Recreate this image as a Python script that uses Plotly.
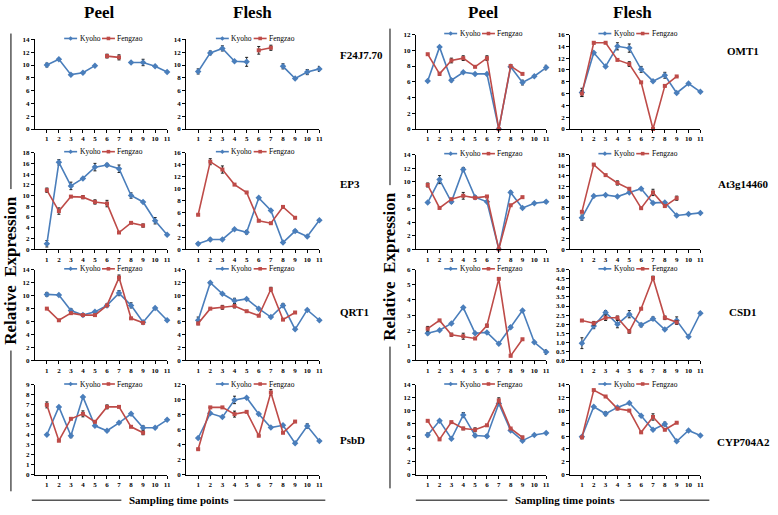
import plotly.graph_objects as go

W, H = 778, 515
X = [1, 2, 3, 4, 5, 6, 7, 8, 9, 10, 11]
XF = [1, 2, 3, 4, 5, 6, 7, 8, 9]
N = None

# ---------------- data ----------------
f24_peel_kyoho = [10.0, 10.9, 8.5, 8.8, 9.9, N, N, 10.4, 10.4, 9.8, 8.9]
f24_peel_kyoho_err = [0.3, N, N, N, N, N, N, N, 0.5, N, N]
f24_peel_fengzao = [N, N, N, N, N, 11.4, 11.2, N, N]
f24_peel_fengzao_err = [N, N, N, N, N, 0.3, 0.4, N, N]
f24_flesh_kyoho = [9.0, 11.9, 12.6, 10.6, 10.5, N, N, 9.8, 7.9, 8.9, 9.4]
f24_flesh_kyoho_err = [0.4, 0.3, 0.4, N, 0.7, N, N, 0.4, N, 0.4, 0.4]
f24_flesh_fengzao = [N, N, N, N, N, 12.3, 12.7, N, N]
f24_flesh_fengzao_err = [N, N, N, N, N, 0.6, 0.4, N, N]

ep3_peel_kyoho = [1.0, 16.2, 11.8, 13.2, 15.3, 15.7, 15.0, 10.0, 8.8, 5.3, 2.7]
ep3_peel_kyoho_err = [0.6, 0.5, 0.7, N, 0.7, 0.3, 0.7, 0.5, N, 0.6, N]
ep3_peel_fengzao = [11.0, 7.1, 9.8, 9.7, 8.8, 8.5, 3.1, 4.9, 4.4]
ep3_peel_fengzao_err = [0.4, 0.6, N, 0.3, 0.4, 0.6, N, N, 0.3]
ep3_flesh_kyoho = [0.9, 1.6, 1.6, 3.3, 2.8, 8.5, 6.4, 1.1, 3.0, 2.1, 4.8]
ep3_flesh_kyoho_err = [0.2, 0.2, N, N, 0.3, N, N, N, 0.2, N, N]
ep3_flesh_fengzao = [5.7, 14.5, 13.2, 10.7, 9.4, 4.7, 4.3, 7.0, 5.2]
ep3_flesh_fengzao_err = [N, 0.5, 0.6, N, N, N, N, N, N]

qrt1_peel_kyoho = [10.2, 10.1, 7.7, 7.0, 7.5, 8.5, 10.4, 8.5, 5.9, 8.1, 6.2]
qrt1_peel_kyoho_err = [0.3, N, 0.3, N, N, N, 0.4, 0.4, N, N, N]
qrt1_peel_fengzao = [8.0, 6.2, 7.3, 7.0, 7.0, 8.5, 12.8, 6.5, 5.8]
qrt1_peel_fengzao_err = [N, N, N, N, N, N, 0.4, N, N]
qrt1_flesh_kyoho = [6.2, 12.0, 10.3, 9.2, 9.5, 8.0, 6.7, 8.5, 4.8, 7.8, 6.2]
qrt1_flesh_kyoho_err = [0.5, 0.2, N, 0.4, N, N, N, 0.3, N, N, N]
qrt1_flesh_fengzao = [5.7, 8.0, 8.2, 8.4, 7.6, 6.9, 11.0, 6.3, 7.4]
qrt1_flesh_fengzao_err = [0.2, N, 0.3, 0.3, N, N, 0.3, N, N]

psbd_peel_kyoho = [4.0, 6.8, 3.9, 7.8, 4.9, 4.4, 5.2, 6.1, 4.7, 4.7, 5.5]
psbd_peel_kyoho_err = [N, N, 0.2, N, N, N, N, N, 0.2, N, N]
psbd_peel_fengzao = [7.0, 3.4, 5.6, 6.1, 5.3, 6.8, 6.8, 4.8, 4.2]
psbd_peel_fengzao_err = [0.3, N, N, 0.3, N, 0.2, N, N, 0.2]
psbd_flesh_kyoho = [4.9, 8.2, 7.7, 10.0, 10.3, 8.1, 6.3, 6.6, 4.2, 6.5, 4.5]
psbd_flesh_kyoho_err = [N, N, N, 0.5, N, N, N, N, N, 0.3, N]
psbd_flesh_fengzao = [3.4, 9.0, 9.0, 8.1, 8.4, 5.2, 11.0, 5.6, 7.1]
psbd_flesh_fengzao_err = [N, N, N, 0.4, N, N, 0.4, N, N]

omt1_peel_kyoho = [6.1, 10.4, 6.2, 7.2, 7.0, 7.0, 0.0, 7.9, 5.9, 6.7, 7.8]
omt1_peel_kyoho_err = [N, N, 0.2, N, N, N, N, N, 0.3, N, 0.3]
omt1_peel_fengzao = [9.5, 7.0, 8.7, 9.0, 7.9, 9.0, 0.0, 8.0, 7.0]
omt1_peel_fengzao_err = [N, 0.2, 0.3, 0.3, N, 0.3, N, 0.2, N]
omt1_flesh_kyoho = [6.2, 12.9, 10.6, 14.0, 13.7, 10.1, 8.1, 9.1, 6.1, 7.7, 6.3]
omt1_flesh_kyoho_err = [0.7, N, N, 0.6, 0.7, 0.5, N, 0.5, N, N, N]
omt1_flesh_fengzao = [6.0, 14.6, 14.6, 11.7, 11.0, 7.9, 0.0, 7.3, 8.9]
omt1_flesh_fengzao_err = [0.5, 0.2, N, N, 0.4, N, N, N, N]

at3_peel_kyoho = [6.9, 10.3, 7.0, 11.8, 7.7, 7.0, 0.0, 8.4, 6.1, 6.8, 7.0]
at3_peel_kyoho_err = [N, 0.6, 0.2, 0.3, 0.2, N, N, 0.2, N, N, 0.2]
at3_peel_fengzao = [9.5, 6.1, 7.4, 7.9, 7.6, 7.8, 0.0, 6.5, 7.7]
at3_peel_fengzao_err = [0.3, N, N, 0.5, N, N, N, N, N]
at3_flesh_kyoho = [6.0, 10.1, 10.3, 10.0, 10.8, 11.5, 8.8, 8.9, 6.4, 6.7, 6.9]
at3_flesh_kyoho_err = [0.5, N, N, N, N, N, N, N, N, N, N]
at3_flesh_fengzao = [7.1, 16.1, 14.1, 12.6, 11.5, 7.8, 10.8, 8.2, 9.7]
at3_flesh_fengzao_err = [N, N, N, 0.4, N, N, 0.6, N, 0.4]

csd1_peel_kyoho = [1.8, 2.0, 2.45, 3.5, 1.8, 1.85, 1.1, 2.2, 3.3, 1.2, 0.55]
csd1_peel_kyoho_err = [0.1, N, N, N, N, N, N, 0.1, N, N, 0.15]
csd1_peel_fengzao = [2.1, 2.65, 1.7, 1.6, 1.45, 2.3, 5.4, 0.3, 1.4]
csd1_peel_fengzao_err = [0.15, N, 0.1, 0.2, N, 0.1, N, N, N]
csd1_flesh_kyoho = [0.95, 1.9, 2.65, 2.0, 2.55, 1.95, 2.3, 1.7, 2.2, 1.3, 2.6]
csd1_flesh_kyoho_err = [0.3, 0.15, 0.1, 0.2, 0.2, 0.1, 0.1, N, 0.2, N, 0.1]
csd1_flesh_fengzao = [2.2, 2.05, 2.35, 2.35, 1.6, 2.85, 4.55, 2.35, 2.1]
csd1_flesh_fengzao_err = [N, 0.1, 0.15, 0.1, 0.1, N, 0.1, 0.1, 0.1]

cyp_peel_kyoho = [6.2, 8.4, 5.6, 9.3, 6.1, 6.0, 11.1, 6.9, 5.3, 6.2, 6.5]
cyp_peel_kyoho_err = [0.3, 0.2, N, 0.4, 0.2, 0.2, N, N, N, N, N]
cyp_peel_fengzao = [8.4, 5.5, 8.2, 7.2, 7.0, 7.7, 11.6, 7.2, 5.8]
cyp_peel_fengzao_err = [N, N, N, 0.2, 0.3, N, 0.4, N, 0.2]
cyp_flesh_kyoho = [5.9, 10.6, 9.5, 10.5, 11.2, 9.2, 7.0, 7.9, 5.2, 6.9, 6.1]
cyp_flesh_kyoho_err = [N, N, 0.3, N, N, N, N, 0.3, N, N, N]
cyp_flesh_fengzao = [5.8, 13.2, 12.2, 10.3, 10.0, 6.6, 9.0, 7.0, 8.1]
cyp_flesh_fengzao_err = [N, N, N, N, N, N, 0.5, N, N]

gene_labels_left = ["F24J7.70", "EP3", "QRT1", "PsbD"]
gene_labels_right = ["OMT1", "At3g14460", "CSD1", "CYP704A2"]
series_names = ["Kyoho", "Fengzao"]

# panel: (kyoho, kyoho_err, fengzao, fengzao_err, ymax, dtick, col, row)
panels = [
    (f24_peel_kyoho, f24_peel_kyoho_err, f24_peel_fengzao, f24_peel_fengzao_err, 14, 2, 0, 0),
    (f24_flesh_kyoho, f24_flesh_kyoho_err, f24_flesh_fengzao, f24_flesh_fengzao_err, 14, 2, 1, 0),
    (ep3_peel_kyoho, ep3_peel_kyoho_err, ep3_peel_fengzao, ep3_peel_fengzao_err, 18, 2, 0, 1),
    (ep3_flesh_kyoho, ep3_flesh_kyoho_err, ep3_flesh_fengzao, ep3_flesh_fengzao_err, 16, 2, 1, 1),
    (qrt1_peel_kyoho, qrt1_peel_kyoho_err, qrt1_peel_fengzao, qrt1_peel_fengzao_err, 14, 2, 0, 2),
    (qrt1_flesh_kyoho, qrt1_flesh_kyoho_err, qrt1_flesh_fengzao, qrt1_flesh_fengzao_err, 14, 2, 1, 2),
    (psbd_peel_kyoho, psbd_peel_kyoho_err, psbd_peel_fengzao, psbd_peel_fengzao_err, 9, 1, 0, 3),
    (psbd_flesh_kyoho, psbd_flesh_kyoho_err, psbd_flesh_fengzao, psbd_flesh_fengzao_err, 12, 2, 1, 3),
    (omt1_peel_kyoho, omt1_peel_kyoho_err, omt1_peel_fengzao, omt1_peel_fengzao_err, 12, 2, 2, 0),
    (omt1_flesh_kyoho, omt1_flesh_kyoho_err, omt1_flesh_fengzao, omt1_flesh_fengzao_err, 16, 2, 3, 0),
    (at3_peel_kyoho, at3_peel_kyoho_err, at3_peel_fengzao, at3_peel_fengzao_err, 14, 2, 2, 1),
    (at3_flesh_kyoho, at3_flesh_kyoho_err, at3_flesh_fengzao, at3_flesh_fengzao_err, 18, 2, 3, 1),
    (csd1_peel_kyoho, csd1_peel_kyoho_err, csd1_peel_fengzao, csd1_peel_fengzao_err, 6, 1, 2, 2),
    (csd1_flesh_kyoho, csd1_flesh_kyoho_err, csd1_flesh_fengzao, csd1_flesh_fengzao_err, 5, 0.5, 3, 2),
    (cyp_peel_kyoho, cyp_peel_kyoho_err, cyp_peel_fengzao, cyp_peel_fengzao_err, 14, 2, 2, 3),
    (cyp_flesh_kyoho, cyp_flesh_kyoho_err, cyp_flesh_fengzao, cyp_flesh_fengzao_err, 14, 2, 3, 3),
]

# ---------------- layout geometry (pixels) ----------------
COLS = [(35, 168), (187, 321), (418, 549), (573, 704)]
ROW_BOTTOM = [127, 249, 362, 478]
ROW_TOP_LEFT = [36, 151, 270, 387]
ROW_TOP_RIGHT = [31, 153, 270, 387]

BLUE = "#4A7EBB"
RED = "#BE4B48"
SERIF = "'Liberation Serif', 'Times New Roman', Times, 'DejaVu Serif', serif"


def px(x):
    return x / W


def py(y):
    return 1 - y / H


fig = go.Figure()
layout = dict(
    width=W, height=H, margin=dict(l=0, r=0, t=0, b=0),
    paper_bgcolor="white", plot_bgcolor="white", showlegend=False,
    font=dict(family=SERIF, color="black"),
)
shapes = []
annotations = []

for i, (ky, kye, fz, fze, ymax, dtick, col, row) in enumerate(panels):
    n = i + 1
    xa = "x" if n == 1 else f"x{n}"
    ya = "y" if n == 1 else f"y{n}"
    x0, x1 = COLS[col]
    top = ROW_TOP_LEFT[row] if col < 2 else ROW_TOP_RIGHT[row]
    bot = ROW_BOTTOM[row]
    for vals, errs, xs, color, sym, msz in (
        (ky, kye, X, BLUE, "diamond", 5),
        (fz, fze, XF, RED, "square", 4),
    ):
        fig.add_trace(go.Scatter(
            x=xs, y=vals, xaxis=xa, yaxis=ya, mode="lines+markers",
            line=dict(color=color, width=1.6),
            marker=dict(color=color, symbol=sym, size=msz),
            error_y=dict(type="data", array=errs, visible=True,
                         color="#222222", thickness=1, width=1.5),
            cliponaxis=False, connectgaps=False, hoverinfo="skip",
        ))
    layout["xaxis" if n == 1 else f"xaxis{n}"] = dict(
        domain=[px(x0), px(x1)], anchor=ya, range=[0, 11], tickvals=X,
        showline=True, linecolor="black", linewidth=1, ticks="outside",
        ticklen=3, tickcolor="black", showgrid=False, zeroline=False,
        tickfont=dict(family=SERIF, size=7, color="black", weight="bold"),
    )
    tickformat = ".1f" if dtick < 1 else "d"
    layout["yaxis" if n == 1 else f"yaxis{n}"] = dict(
        domain=[py(bot), py(top)], anchor=xa, range=[0, ymax], dtick=dtick,
        tick0=0, tickformat=tickformat,
        showline=True, linecolor="black", linewidth=1, ticks="outside",
        ticklen=3, tickcolor="black", showgrid=False, zeroline=False,
        tickfont=dict(family=SERIF, size=7, color="black", weight="bold"),
    )
    # legend drawn per panel
    cx = (x0 + x1) / 2
    ly = top - 1
    items = ((series_names[0], BLUE, cx - 37, "diamond"),
             (series_names[1], RED, cx + 1, "square"))
    for name, color, lx, sym in items:
        shapes.append(dict(type="line", xref="paper", yref="paper",
                           x0=px(lx), x1=px(lx + 13), y0=py(ly), y1=py(ly),
                           line=dict(color=color, width=1.6)))
        mx = lx + 6.5
        if sym == "diamond":
            path = (f"M {px(mx - 2.3)},{py(ly)} L {px(mx)},{py(ly - 2.3)} "
                    f"L {px(mx + 2.3)},{py(ly)} L {px(mx)},{py(ly + 2.3)} Z")
            shapes.append(dict(type="path", xref="paper", yref="paper", path=path,
                               fillcolor=color, line=dict(color=color, width=0)))
        else:
            shapes.append(dict(type="rect", xref="paper", yref="paper",
                               x0=px(mx - 1.8), x1=px(mx + 1.8),
                               y0=py(ly + 1.8), y1=py(ly - 1.8),
                               fillcolor=color, line=dict(color=color, width=0)))
        annotations.append(dict(text=name, xref="paper", yref="paper",
                                x=px(lx + 13.5), y=py(ly), xanchor="left",
                                yanchor="middle", showarrow=False,
                                font=dict(family=SERIF, size=7.5, color="black")))

# column titles
for text, x in (("Peel", 100), ("Flesh", 254), ("Peel", 485), ("Flesh", 636)):
    annotations.append(dict(text=f"<b>{text}</b>", xref="paper", yref="paper",
                            x=px(x), y=py(9), xanchor="center", yanchor="middle",
                            showarrow=False, font=dict(family=SERIF, size=17)))

# gene labels
for text, y in zip(gene_labels_left, (52, 183, 313, 443)):
    annotations.append(dict(text=f"<b>{text}</b>", xref="paper", yref="paper",
                            x=px(340), y=py(y), xanchor="left", yanchor="middle",
                            showarrow=False, font=dict(family=SERIF, size=11)))
for text, y in zip(gene_labels_right, (48, 183, 313, 445)):
    annotations.append(dict(text=f"<b>{text}</b>", xref="paper", yref="paper",
                            x=px(747), y=py(y), xanchor="center", yanchor="middle",
                            showarrow=False, font=dict(family=SERIF, size=11)))

# "Relative Expression" side labels with lines
for lxp, ymid, ytop, ybot in ((11, 270, 30, 495), (392, 266, 25, 492)):
    annotations.append(dict(text="<b>Relative  Expression</b>", xref="paper",
                            yref="paper", x=px(lxp), y=py(ymid), textangle=-90,
                            xanchor="center", yanchor="middle", showarrow=False,
                            font=dict(family=SERIF, size=17)))
    shapes.append(dict(type="line", xref="paper", yref="paper", x0=px(lxp),
                       x1=px(lxp), y0=py(ytop), y1=py(ymid - 82),
                       line=dict(color="black", width=1)))
    shapes.append(dict(type="line", xref="paper", yref="paper", x0=px(lxp),
                       x1=px(lxp), y0=py(ymid + 82), y1=py(ybot),
                       line=dict(color="black", width=1)))

# "Sampling time points" with lines
for cxs, l0, l1, r0, r1 in ((180, 32, 122, 235, 327), (568, 418, 510, 623, 713)):
    annotations.append(dict(text="<b>Sampling time points</b>", xref="paper",
                            yref="paper", x=px(cxs), y=py(504), xanchor="center",
                            yanchor="middle", showarrow=False,
                            font=dict(family=SERIF, size=11)))
    for a, b in ((l0, l1), (r0, r1)):
        shapes.append(dict(type="line", xref="paper", yref="paper", x0=px(a),
                           x1=px(b), y0=py(504), y1=py(504),
                           line=dict(color="black", width=1)))

layout["shapes"] = shapes
layout["annotations"] = annotations
fig.update_layout(**layout)
fig.write_html(
    "out.html",
    config={"displayModeBar": False},
    post_script="document.body.style.margin='0';document.body.style.overflow='hidden';",
)
